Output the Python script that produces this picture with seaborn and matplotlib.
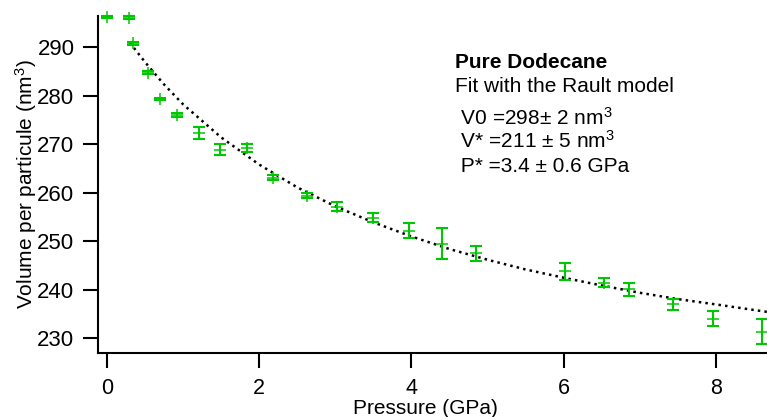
import matplotlib
matplotlib.use('Agg')
import matplotlib.pyplot as plt
import seaborn as sns

# Measured points (pressure in GPa, volume per particle in nm^3)
pressure = [0.0, 0.29, 0.34, 0.54, 0.69, 0.92, 1.21, 1.49, 1.84, 2.18, 2.63,
            3.02, 3.50, 3.97, 4.40, 4.85, 6.02, 6.53, 6.86, 7.44, 7.96, 8.61]
volume = [296.2, 296.0, 290.8, 284.7, 279.3, 276.0, 272.3, 268.9, 269.2, 263.1, 259.4,
          257.1, 254.9, 252.2, 249.5, 247.5, 243.8, 241.5, 240.1, 237.0, 234.1, 231.4]
volume_err = [0.3, 0.3, 0.3, 0.3, 0.3, 0.4, 1.3, 1.1, 0.9, 0.5, 0.5,
              0.9, 1.0, 1.5, 3.2, 1.6, 1.8, 0.9, 1.3, 1.2, 1.6, 2.6]

# Rault model fit curve
fit_pressure = [0.3, 0.5, 0.75, 1.0, 1.5, 2.0, 2.5, 3.0, 3.5, 4.0, 4.5,
                5.0, 5.5, 6.0, 6.5, 7.0, 7.5, 8.0, 8.7]
fit_volume = [290.9, 286.9, 282.3, 278.2, 271.4, 265.8, 261.1, 257.2, 253.9, 251.0, 248.4,
              246.2, 244.2, 242.5, 240.9, 239.4, 238.1, 237.0, 235.4]

x_ticks = [0, 2, 4, 6, 8]
y_ticks = [230, 240, 250, 260, 270, 280, 290]

annotation_lines = ['Pure Dodecane',
                    'Fit with the Rault model',
                    ' V0 =298\u00b1 2 nm$^3$',
                    ' V* =211 \u00b1 5 nm$^3$',
                    ' P* =3.4 \u00b1 0.6 GPa']

GREEN = '#00c800'

sns.set_style('ticks')
plt.rcParams['font.family'] = ['Liberation Sans', 'DejaVu Sans']
plt.rcParams['mathtext.fontset'] = 'custom'
plt.rcParams['mathtext.rm'] = 'Liberation Sans'
plt.rcParams['mathtext.it'] = 'Liberation Sans:italic'
plt.rcParams['text.color'] = 'black'
plt.rcParams['axes.labelcolor'] = 'black'

fig = plt.figure(figsize=(7.67, 4.17), dpi=100)
ax = fig.add_axes([98 / 767, 1 - 353 / 417, 669 / 767, 337 / 417])

# fit curve
sns.lineplot(x=fit_pressure, y=fit_volume, ax=ax, color='black',
             linestyle=':', linewidth=1.8, sort=False)

# data with error bars
ax.errorbar(pressure, volume, yerr=volume_err, fmt='none', ecolor=GREEN,
            elinewidth=1.5, capsize=4.5, capthick=1.5, clip_on=False, zorder=3)
sns.scatterplot(x=pressure, y=volume, ax=ax, marker='+', s=80, color=GREEN,
                linewidth=1.1, clip_on=False, zorder=4)

ax.set_xlim(-0.118, 8.67)
ax.set_ylim(227.0, 296.4)
ax.set_xticks(x_ticks)
ax.set_yticks(y_ticks)
sns.despine(ax=ax)
for side in ['left', 'bottom']:
    ax.spines[side].set_linewidth(1.5)
    ax.spines[side].set_color('black')
ax.tick_params(axis='both', which='major', direction='out', length=11, width=1.5,
               colors='black', labelsize=16)
ax.tick_params(axis='y', pad=6)
ax.tick_params(axis='x', pad=7, labelsize=15.5)

ax.set_xlabel('Pressure (GPa)', fontsize=15, color='black')
ax.xaxis.set_label_coords(0.489, -0.137)
ax.set_ylabel('Volume per particule (nm$^3$)', fontsize=15, labelpad=-1, color='black')

# annotation block
baselines = [68, 92, 125, 148, 172]
for i, (line, base) in enumerate(zip(annotation_lines, baselines)):
    fig.text(455 / 767, 1 - base / 417, line, fontsize=15, color='black',
             family=['Liberation Sans', 'DejaVu Sans'],
             fontweight='bold' if i == 0 else 'normal', va='baseline', ha='left')

fig.savefig('out.png', dpi=100)
